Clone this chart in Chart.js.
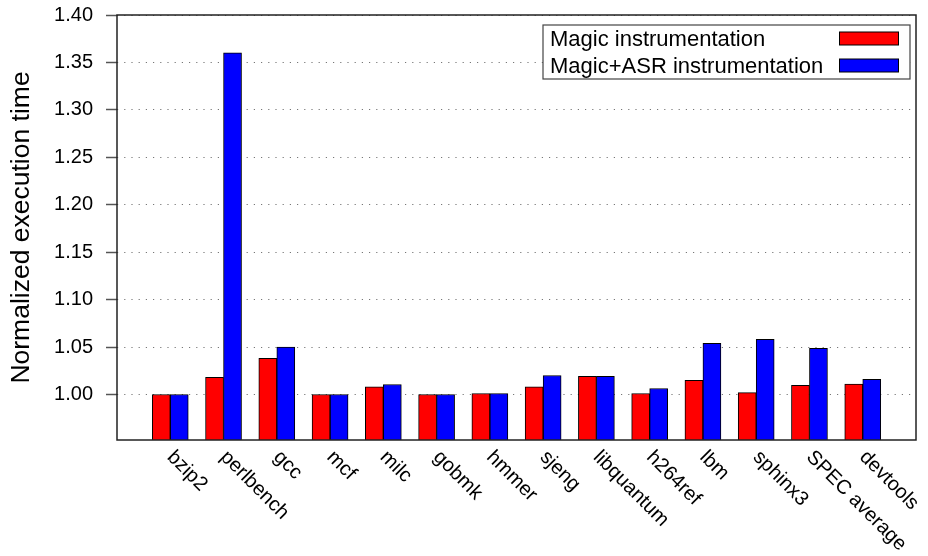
<!DOCTYPE html>
<html>
<head>
<meta charset="utf-8">
<script src="https://cdn.jsdelivr.net/npm/chart.js@4/dist/chart.umd.min.js"></script>
<style>
  html, body { margin: 0; padding: 0; background: #fff; }
  canvas { display: block; }
</style>
</head>
<body>
<canvas id="chart" width="928" height="556"></canvas>
<script>
// Benchmarks, in plotting order
const categories = ['bzip2', 'perlbench', 'gcc', 'mcf', 'milc', 'gobmk', 'hmmer',
  'sjeng', 'libquantum', 'h264ref', 'lbm', 'sphinx3', 'SPEC average', 'devtools'];

// Normalized execution time per benchmark
const magic    = [1.000, 1.018, 1.038, 1.000, 1.008, 1.000, 1.001, 1.008, 1.019, 1.001, 1.015, 1.002, 1.0095, 1.011];
const magicAsr = [1.000, 1.360, 1.050, 1.000, 1.0105, 1.000, 1.001, 1.020, 1.019, 1.0063, 1.054, 1.058, 1.0485, 1.016];

// Y axis tick values
const yTicks = [1.00, 1.05, 1.10, 1.15, 1.20, 1.25, 1.30, 1.35, 1.40];

const FONT = '"Liberation Sans", Arial, Helvetica, sans-serif';

// One empty slot at each end keeps the benchmarks off the plot edges
const labels = [''].concat(categories, ['']);
const pad = arr => [null].concat(arr, [null]);

// Rotated benchmark names under the x axis
const xLabelPlugin = {
  id: 'xLabels',
  afterDraw(chart) {
    const ctx = chart.ctx;
    const xs = chart.scales.x;
    const y0 = chart.chartArea.bottom + 18;
    ctx.save();
    ctx.font = '20px ' + FONT;
    ctx.fillStyle = '#000';
    ctx.textAlign = 'left';
    ctx.textBaseline = 'alphabetic';
    categories.forEach((name, i) => {
      const x = xs.getPixelForValue(i + 1) - 4;
      ctx.save();
      ctx.translate(x, y0);
      ctx.rotate(Math.PI / 4);
      ctx.fillText(name, 0, 0);
      ctx.restore();
    });
    ctx.restore();
  }
};

// Box around the plotting area
const framePlugin = {
  id: 'frame',
  afterDatasetsDraw(chart) {
    const {left, right, top, bottom} = chart.chartArea;
    const ctx = chart.ctx;
    ctx.save();
    ctx.strokeStyle = '#222';
    ctx.lineWidth = 1.5;
    ctx.strokeRect(left, top, right - left, bottom - top);
    ctx.restore();
  }
};

// Key box in the upper right: text on the left, colour swatch on the right
const keyPlugin = {
  id: 'keyBox',
  afterDraw(chart) {
    const ctx = chart.ctx;
    const area = chart.chartArea;
    const bx = 543, by = area.top + 10, bw = 367, bh = 54;
    ctx.save();
    ctx.fillStyle = '#fff';
    ctx.fillRect(bx, by, bw, bh);
    ctx.strokeStyle = '#444';
    ctx.lineWidth = 1.2;
    ctx.strokeRect(bx, by, bw, bh);
    ctx.font = '22px ' + FONT;
    ctx.textAlign = 'left';
    ctx.textBaseline = 'alphabetic';
    chart.data.datasets.forEach((ds, i) => {
      const rowTop = by + 7 + i * 27;
      ctx.fillStyle = '#000';
      ctx.fillText(ds.label, bx + 7, rowTop + 14);
      ctx.fillStyle = ds.backgroundColor;
      ctx.fillRect(839.5, rowTop, 59, 13);
      ctx.strokeStyle = '#000';
      ctx.lineWidth = 1;
      ctx.strokeRect(839.5, rowTop, 59, 13);
    });
    ctx.restore();
  }
};

new Chart(document.getElementById('chart'), {
  type: 'bar',
  data: {
    labels: labels,
    datasets: [
      {
        label: 'Magic instrumentation',
        data: pad(magic),
        backgroundColor: '#ff0000',
        borderColor: '#000',
        borderWidth: 1,
        borderSkipped: false
      },
      {
        label: 'Magic+ASR instrumentation',
        data: pad(magicAsr),
        backgroundColor: '#0000ff',
        borderColor: '#000',
        borderWidth: 1,
        borderSkipped: false
      }
    ]
  },
  options: {
    responsive: false,
    animation: false,
    devicePixelRatio: 1,
    barThickness: 18,
    layout: { padding: { top: 15, right: 12, left: 0, bottom: 0 } },
    plugins: {
      legend: { display: false },
      tooltip: { enabled: false }
    },
    scales: {
      x: {
        offset: false,
        grid: { display: false },
        border: { display: false },
        ticks: { display: false },
        afterFit(scale) {
          scale.height = 116;
          scale.paddingLeft = 0;
          scale.paddingRight = 0;
        }
      },
      y: {
        min: 0.952,
        max: 1.40,
        afterBuildTicks(scale) {
          scale.ticks = yTicks.map(v => ({ value: v }));
        },
        afterFit(scale) {
          scale.width = 117;
          scale.paddingTop = 0;
          scale.paddingBottom = 0;
        },
        grid: {
          color: '#777',
          lineWidth: 1,
          tickLength: 11,
          tickColor: '#555',
          tickWidth: 1.5,
          tickBorderDash: []
        },
        border: { display: false, dash: [1.2, 6] },
        ticks: {
          padding: 13,
          color: '#000',
          font: { family: FONT, size: 20 },
          callback: v => Number(v).toFixed(2)
        },
        title: {
          display: true,
          text: 'Normalized execution time',
          color: '#000',
          font: { family: FONT, size: 26.5 },
          padding: { top: 6, bottom: 0 }
        }
      }
    }
  },
  plugins: [xLabelPlugin, framePlugin, keyPlugin]
});
</script>
</body>
</html>
